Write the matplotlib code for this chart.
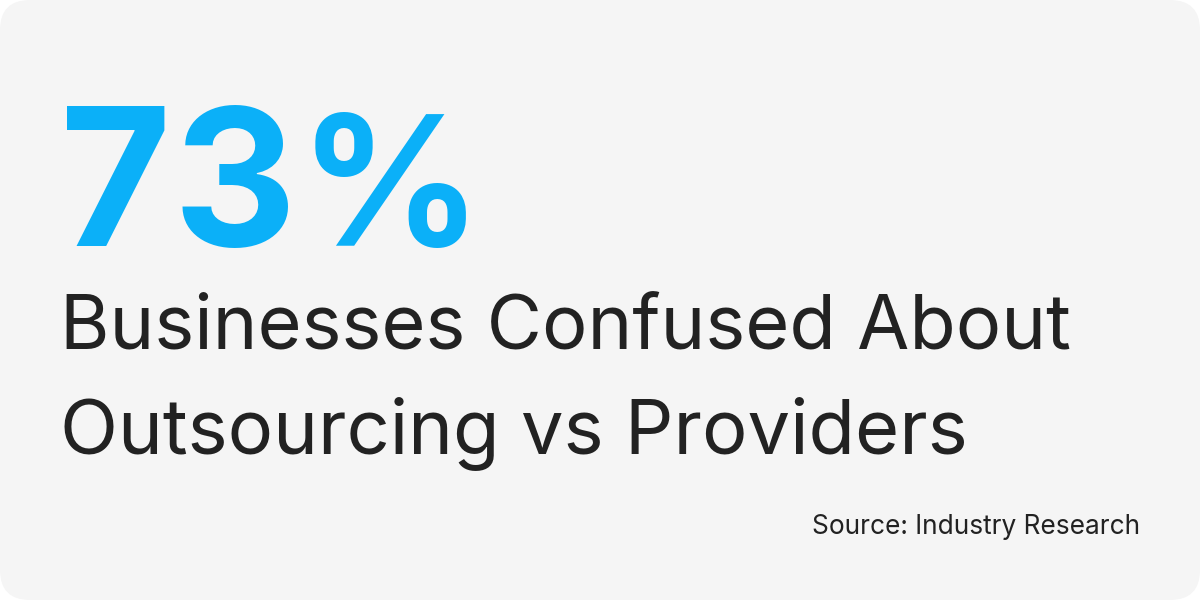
import matplotlib
matplotlib.use('Agg')
import matplotlib.pyplot as plt
from matplotlib.patches import FancyBboxPatch

# Values shown on the card
big_number = '73%'
headline_lines = ['Businesses Confused About', 'Outsourcing vs Providers']
source_text = 'Source: Industry Research'

plt.rcParams['font.family'] = ['Inter', 'DejaVu Sans']

fig = plt.figure(figsize=(12, 6), dpi=100)
fig.patch.set_facecolor('white')
ax = fig.add_axes([0, 0, 1, 1])
ax.set_xlim(0, 1200)
ax.set_ylim(600, 0)
ax.axis('off')

# Rounded card background
card = FancyBboxPatch((0, 0), 1200, 600, boxstyle='round,pad=0,rounding_size=30',
                      facecolor='#f5f5f5', edgecolor='none')
ax.add_patch(card)

# Big number has tight letter spacing in the original, so place each character
# the percent sign is narrower there, so it gets a slightly smaller size
char_x = [60, 173, 299]
char_size = [138, 138, 130]
for ch, x, size in zip(big_number, char_x, char_size):
    ax.text(x, 245.5, ch, fontsize=size, fontweight='bold', color='#0bb0f8', va='baseline', ha='left')

ax.text(60, 349, headline_lines[0], fontsize=54.5, color='#222222', va='baseline', ha='left')
ax.text(60, 453.5, headline_lines[1], fontsize=54.6, color='#222222', va='baseline', ha='left')
ax.text(1140, 534, source_text, fontsize=18.9, color='#222222', va='baseline', ha='right')

fig.savefig('out.png', dpi=100, facecolor=fig.get_facecolor())
